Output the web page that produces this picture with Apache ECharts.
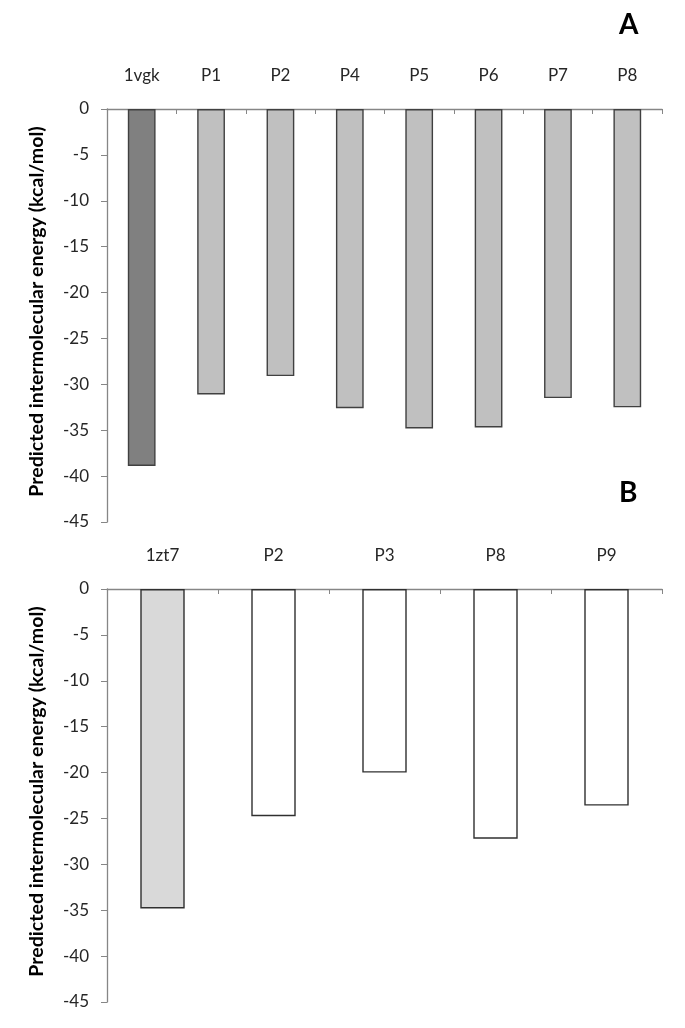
<!DOCTYPE html>
<html>
<head>
<meta charset="utf-8">
<script src="https://cdn.jsdelivr.net/npm/echarts@6/dist/echarts.min.js"></script>
<style>
html,body{margin:0;padding:0;background:#fff;}
#chart{width:685px;height:1028px;}
</style>
</head>
<body>
<div id="chart"></div>
<script>
const catsA = ['1vgk', 'P1', 'P2', 'P4', 'P5', 'P6', 'P7', 'P8'];
const valsA = [-38.9, -31.1, -29.1, -32.6, -34.8, -34.7, -31.5, -32.5];
const colorsA = ['#808080', '#c0c0c0', '#c0c0c0', '#c0c0c0', '#c0c0c0', '#c0c0c0', '#c0c0c0', '#c0c0c0'];

const catsB = ['1zt7', 'P2', 'P3', 'P8', 'P9'];
const valsB = [-34.8, -24.75, -20.0, -27.2, -23.6];
const colorsB = ['#d9d9d9', '#ffffff', '#ffffff', '#ffffff', '#ffffff'];

const yMin = -45, yMax = 0, yStep = 5;
const yName = 'Predicted intermolecular energy (kcal/mol)';
const panelLabels = ['A', 'B'];

const FONT = 'Lato';
const axisGrey = '#868686';
const textCol = '#262626';

function xAxisCfg(idx, cats) {
  return {
    type: 'category', gridIndex: idx, data: cats, position: 'top',
    axisLine: { show: true, lineStyle: { color: axisGrey, width: 1.3 } },
    axisTick: { show: true, inside: true, length: 5, alignWithLabel: false, lineStyle: { color: axisGrey } },
    axisLabel: { color: textCol, fontFamily: FONT, fontSize: 17, margin: 25 },
    splitLine: { show: false }
  };
}
function yAxisCfg(idx) {
  return {
    type: 'value', gridIndex: idx, min: yMin, max: yMax, interval: yStep,
    name: yName, nameLocation: 'middle', nameGap: 60, nameRotate: 90,
    nameTextStyle: { color: '#000', fontFamily: FONT, fontWeight: 'bold', fontSize: 19.6, padding: [0, 0, 0, 8] },
    axisLine: { show: true, lineStyle: { color: axisGrey, width: 1.3 } },
    axisTick: { show: true, length: 6, lineStyle: { color: axisGrey } },
    axisLabel: { color: textCol, fontFamily: FONT, fontSize: 17, margin: 18 },
    splitLine: { show: false }
  };
}
function seriesCfg(idx, vals, colors, border) {
  return {
    type: 'bar', xAxisIndex: idx, yAxisIndex: idx, barWidth: '40%',
    data: vals.map((v, i) => ({ value: v, itemStyle: { color: colors[i] } })),
    itemStyle: { borderColor: border, borderWidth: 1.4 },
    emphasis: { disabled: true }, animation: false
  };
}

const chart = echarts.init(document.getElementById('chart'), null, { renderer: 'canvas' });
chart.setOption({
  backgroundColor: '#fff',
  animation: false,
  title: [
    { text: panelLabels[0], left: 614, top: 6, textStyle: { fontFamily: FONT, fontWeight: 'bold', fontSize: 28, color: '#000' } },
    { text: panelLabels[1], left: 614, top: 474, textStyle: { fontFamily: FONT, fontWeight: 'bold', fontSize: 28, color: '#000' } }
  ],
  grid: [
    { left: 107, right: 23, top: 109, height: 413 },
    { left: 107, right: 23, top: 589, height: 413 }
  ],
  xAxis: [xAxisCfg(0, catsA), xAxisCfg(1, catsB)],
  yAxis: [yAxisCfg(0), yAxisCfg(1)],
  series: [seriesCfg(0, valsA, colorsA, '#404040'), seriesCfg(1, valsB, colorsB, '#303030')]
});
</script>
</body>
</html>
